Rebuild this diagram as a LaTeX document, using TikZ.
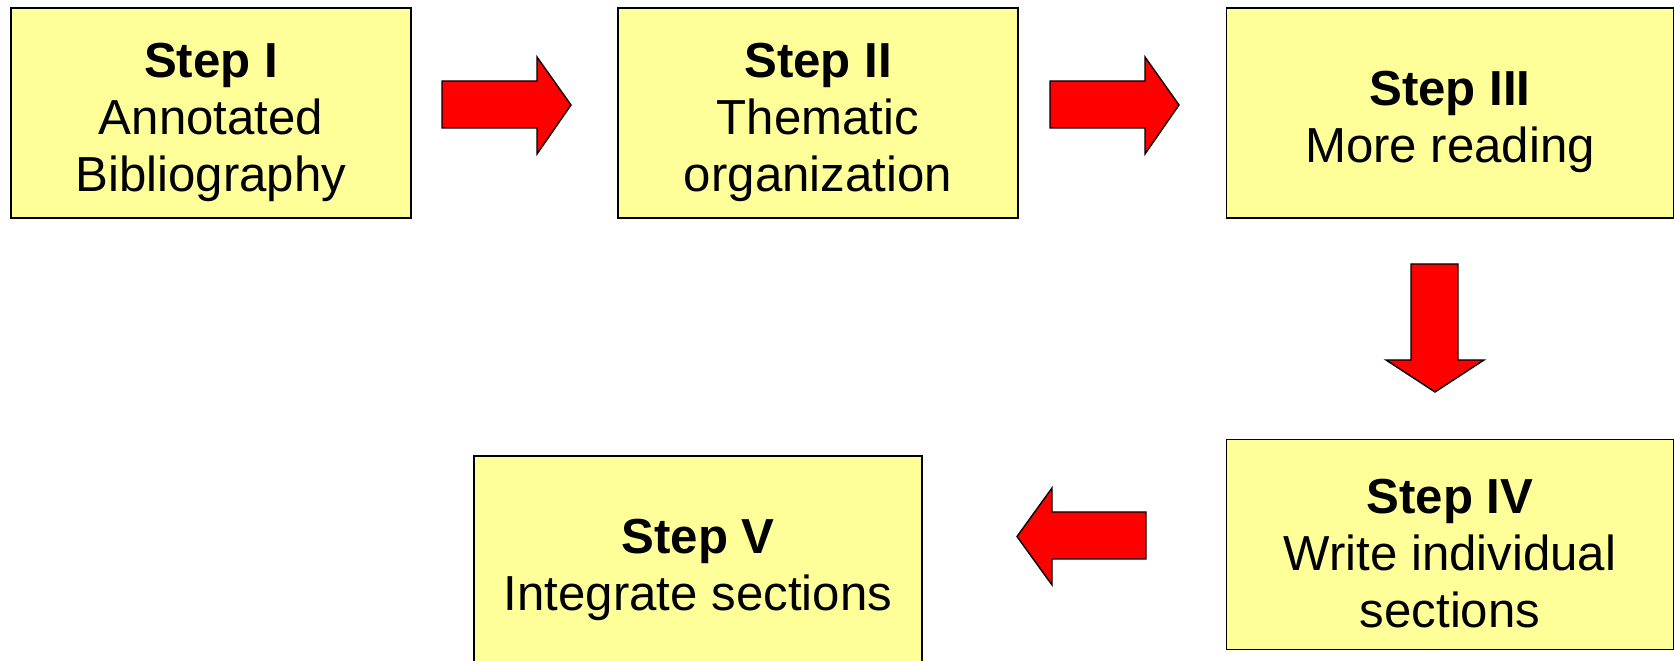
\documentclass[tikz,border=0pt]{standalone}
\usepackage{fontspec}
\setmainfont{Liberation Sans}
\usepackage{tikz}

\definecolor{boxyellow}{HTML}{FFFF99}
\definecolor{arrowred}{HTML}{FF0000}

\newcommand{\toppad}{\rule{0pt}{30pt}}

\tikzset{
  stepbox/.style={draw=black,line width=1pt,fill=boxyellow,minimum height=4.2cm,
    inner sep=0pt,align=center,font=\fontsize{28}{32.4}\selectfont},
  redarrow/.style={draw=black,line width=0.8pt,fill=arrowred,line join=miter}
}

\begin{document}
\begin{tikzpicture}[x=0.02cm,y=0.02cm]

\useasboundingbox (0,0) rectangle (1674,661);

% steps
\node [stepbox,minimum width=8cm] (stepI) at (211,548) {\toppad\textbf{Step I}\\Annotated\\Bibliography};
\node [stepbox,minimum width=8cm] (stepII) at (818,548) {\toppad\textbf{Step II}\\Thematic\\organization};
\node [stepbox,minimum width=8.94cm] (stepIII) at (1450,548) {\toppad\textbf{Step III}\\More reading};
\node [stepbox,minimum width=8.94cm] (stepIV) at (1450,116.5) {\toppad\textbf{Step IV}\\Write individual\\sections};
\node [stepbox,minimum width=8.96cm] (stepV) at (698,100) {\toppad\textbf{Step V}\\Integrate sections};

% block arrows
\draw [redarrow] (442,533) -- (537,533) -- (537,507) -- (571,556) -- (537,604) -- (537,580) -- (442,580) -- cycle;
\draw [redarrow] (1050,533) -- (1145,533) -- (1145,507) -- (1179,556) -- (1145,604) -- (1145,580) -- (1050,580) -- cycle;
\draw [redarrow] (1411,397) -- (1458,397) -- (1458,301) -- (1484,301) -- (1435,269) -- (1386,301) -- (1411,301) -- cycle;
\draw [redarrow] (1146,149) -- (1052,149) -- (1052,173) -- (1017,124.5) -- (1052,76) -- (1052,102) -- (1146,102) -- cycle;

\end{tikzpicture}
\end{document}
